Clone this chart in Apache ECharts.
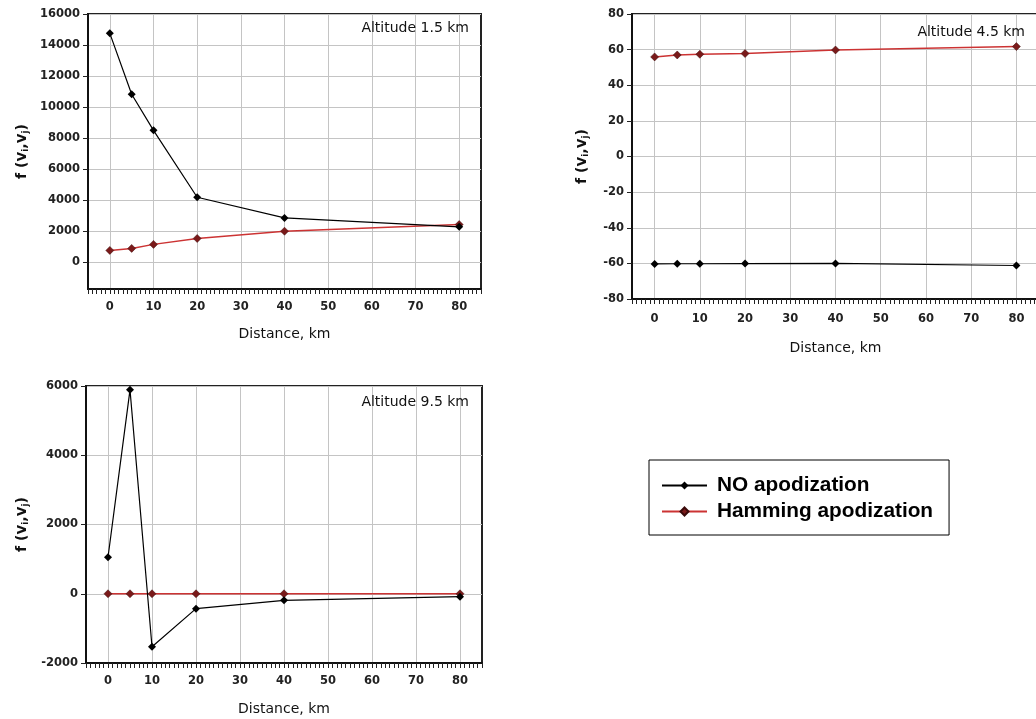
<!DOCTYPE html>
<html>
<head>
<meta charset="utf-8">
<script src="https://cdn.jsdelivr.net/npm/echarts@6/dist/echarts.min.js"></script>
<style>
  html, body { margin: 0; padding: 0; background: #ffffff; }
  #chart { width: 1036px; height: 719px; }
</style>
</head>
<body>
<div id="chart"></div>
<script>
// ---- data ----
const distances = [0, 5, 10, 20, 40, 80];
const xTickLabels = [0, 10, 20, 30, 40, 50, 60, 70, 80];
const seriesNames = ['NO apodization', 'Hamming apodization'];
const panelTitles = ['Altitude 1.5 km', 'Altitude 4.5 km', 'Altitude 9.5 km'];
const xAxisName = 'Distance, km';

const noApod15 = [14750, 10820, 8490, 4170, 2840, 2260];
const hamming15 = [740, 870, 1130, 1510, 1980, 2410];
const yTicks15 = [0, 2000, 4000, 6000, 8000, 10000, 12000, 14000, 16000];

const noApod45 = [-60.3, -60.2, -60.2, -60.1, -60.0, -61.2];
const hamming45 = [55.9, 57.0, 57.4, 57.8, 59.8, 61.7];
const yTicks45 = [-80, -60, -40, -20, 0, 20, 40, 60, 80];

const noApod95 = [1055, 5890, -1530, -430, -190, -85];
const hamming95 = [0, 0, 0, 0, 0, 0];
const yTicks95 = [-2000, 0, 2000, 4000, 6000];

// ---- styles ----
const FONT = 'DejaVu Sans';
const gridColor = '#c4c4c4';
const splitColors = ['transparent','transparent','transparent','transparent','transparent', gridColor,'transparent','transparent','transparent','transparent'];
const labelStyle = { fontFamily: FONT, fontSize: 11.5, fontWeight: 'bold', color: '#222' };

function xAxisFor(gi, nameGap, margin) {
  return {
    type: 'value', gridIndex: gi, min: -5, max: 85, interval: 1,
    name: xAxisName, nameLocation: 'middle', nameGap: nameGap,
    nameTextStyle: { fontFamily: FONT, fontSize: 14, color: '#111' },
    axisLine: { show: true, onZero: false, lineStyle: { color: '#111', width: 2 } },
    axisTick: { show: true, inside: false, length: 5, lineStyle: { color: '#222', width: 1 } },
    axisLabel: Object.assign({
      margin: margin,
      formatter: v => (xTickLabels.indexOf(v) >= 0 ? String(v) : '')
    }, labelStyle),
    splitLine: { show: true, lineStyle: { color: splitColors, width: 1 } }
  };
}

const yName = '{a|f (}{b|v}{c|i}{a|,}{b|v}{c|j}{a|)}';
const yNameStyle = {
  rich: {
    a: { fontFamily: FONT, fontSize: 14, fontWeight: 'bold', color: '#111' },
    b: { fontFamily: FONT, fontSize: 15, fontWeight: 'bold', color: '#111' },
    c: { fontFamily: FONT, fontSize: 9, fontWeight: 'bold', color: '#111', padding: [6, 0, 0, 0] }
  }
};

function yAxisFor(gi, min, max, ticks, nameGap, extra) {
  const ax = {
    type: 'value', gridIndex: gi, min: min, max: max,
    name: yName, nameLocation: 'middle', nameGap: nameGap, nameTextStyle: yNameStyle,
    axisLine: { show: true, onZero: false, lineStyle: { color: '#111', width: 2 } },
    axisTick: { show: true, inside: false, length: 5, customValues: ticks, lineStyle: { color: '#222', width: 1 } },
    axisLabel: Object.assign({ margin: 8, customValues: ticks, formatter: v => String(v) }, labelStyle),
    splitLine: { show: true, lineStyle: { color: gridColor, width: 1 } }
  };
  return Object.assign(ax, extra || {});
}

function pairs(ys) { return distances.map((x, i) => [x, ys[i]]); }

function seriesFor(gi, noVals, hamVals) {
  return [
    {
      name: seriesNames[1], type: 'line', xAxisIndex: gi, yAxisIndex: gi,
      data: pairs(hamVals), symbol: 'diamond', symbolSize: 8,
      lineStyle: { color: '#cc3333', width: 1.5 },
      itemStyle: { color: '#7a1a1a', borderColor: '#3a0a0a', borderWidth: 0.5 },
      emphasis: { disabled: true }, animation: false, z: 3
    },
    {
      name: seriesNames[0], type: 'line', xAxisIndex: gi, yAxisIndex: gi,
      data: pairs(noVals), symbol: 'diamond', symbolSize: 8,
      lineStyle: { color: '#000000', width: 1.2 },
      itemStyle: { color: '#000000' },
      emphasis: { disabled: true }, animation: false, z: 4
    }
  ];
}

const chart = echarts.init(document.getElementById('chart'), null, { renderer: 'canvas' });

const titleStyle = { fontFamily: FONT, fontSize: 14, fontWeight: 'normal', color: '#111' };
const gridBase = { show: true, borderColor: '#222', borderWidth: 2, backgroundColor: 'transparent', outerBoundsMode: 'none', containLabel: false };

const option = {
  backgroundColor: '#ffffff',
  animation: false,
  title: [
    { text: panelTitles[0], right: 567, top: 21, padding: 0, textStyle: titleStyle },
    { text: panelTitles[1], right: 11, top: 25, padding: 0, textStyle: titleStyle },
    { text: panelTitles[2], right: 567, top: 395, padding: 0, textStyle: titleStyle }
  ],
  legend: {
    data: seriesNames, orient: 'vertical', left: 649, top: 460,
    borderColor: '#000', borderWidth: 1, padding: [15, 16, 13, 12],
    itemWidth: 45, itemHeight: 10, itemGap: 5,
    textStyle: { fontFamily: 'Liberation Sans', fontSize: 20.8, lineHeight: 21, fontWeight: 'bold', color: '#000', padding: [0, 0, 0, 5] },
    selectedMode: false
  },
  grid: [
    Object.assign({ left: 88, top: 14, width: 393, height: 275 }, gridBase),
    Object.assign({ left: 632, top: 14, width: 407, height: 285 }, gridBase),
    Object.assign({ left: 86, top: 386, width: 396, height: 277 }, gridBase)
  ],
  xAxis: [
    xAxisFor(0, 38, 12),
    xAxisFor(1, 42, 14),
    xAxisFor(2, 39, 12)
  ],
  yAxis: [
    yAxisFor(0, -1750, 16000, yTicks15, 58),
    yAxisFor(1, -80, 80, yTicks45, 42),
    yAxisFor(2, -2000, 6000, yTicks95, 56)
  ],
  series: [].concat(
    seriesFor(0, noApod15, hamming15),
    seriesFor(1, noApod45, hamming45),
    seriesFor(2, noApod95, hamming95)
  )
};

chart.setOption(option);
</script>
</body>
</html>
